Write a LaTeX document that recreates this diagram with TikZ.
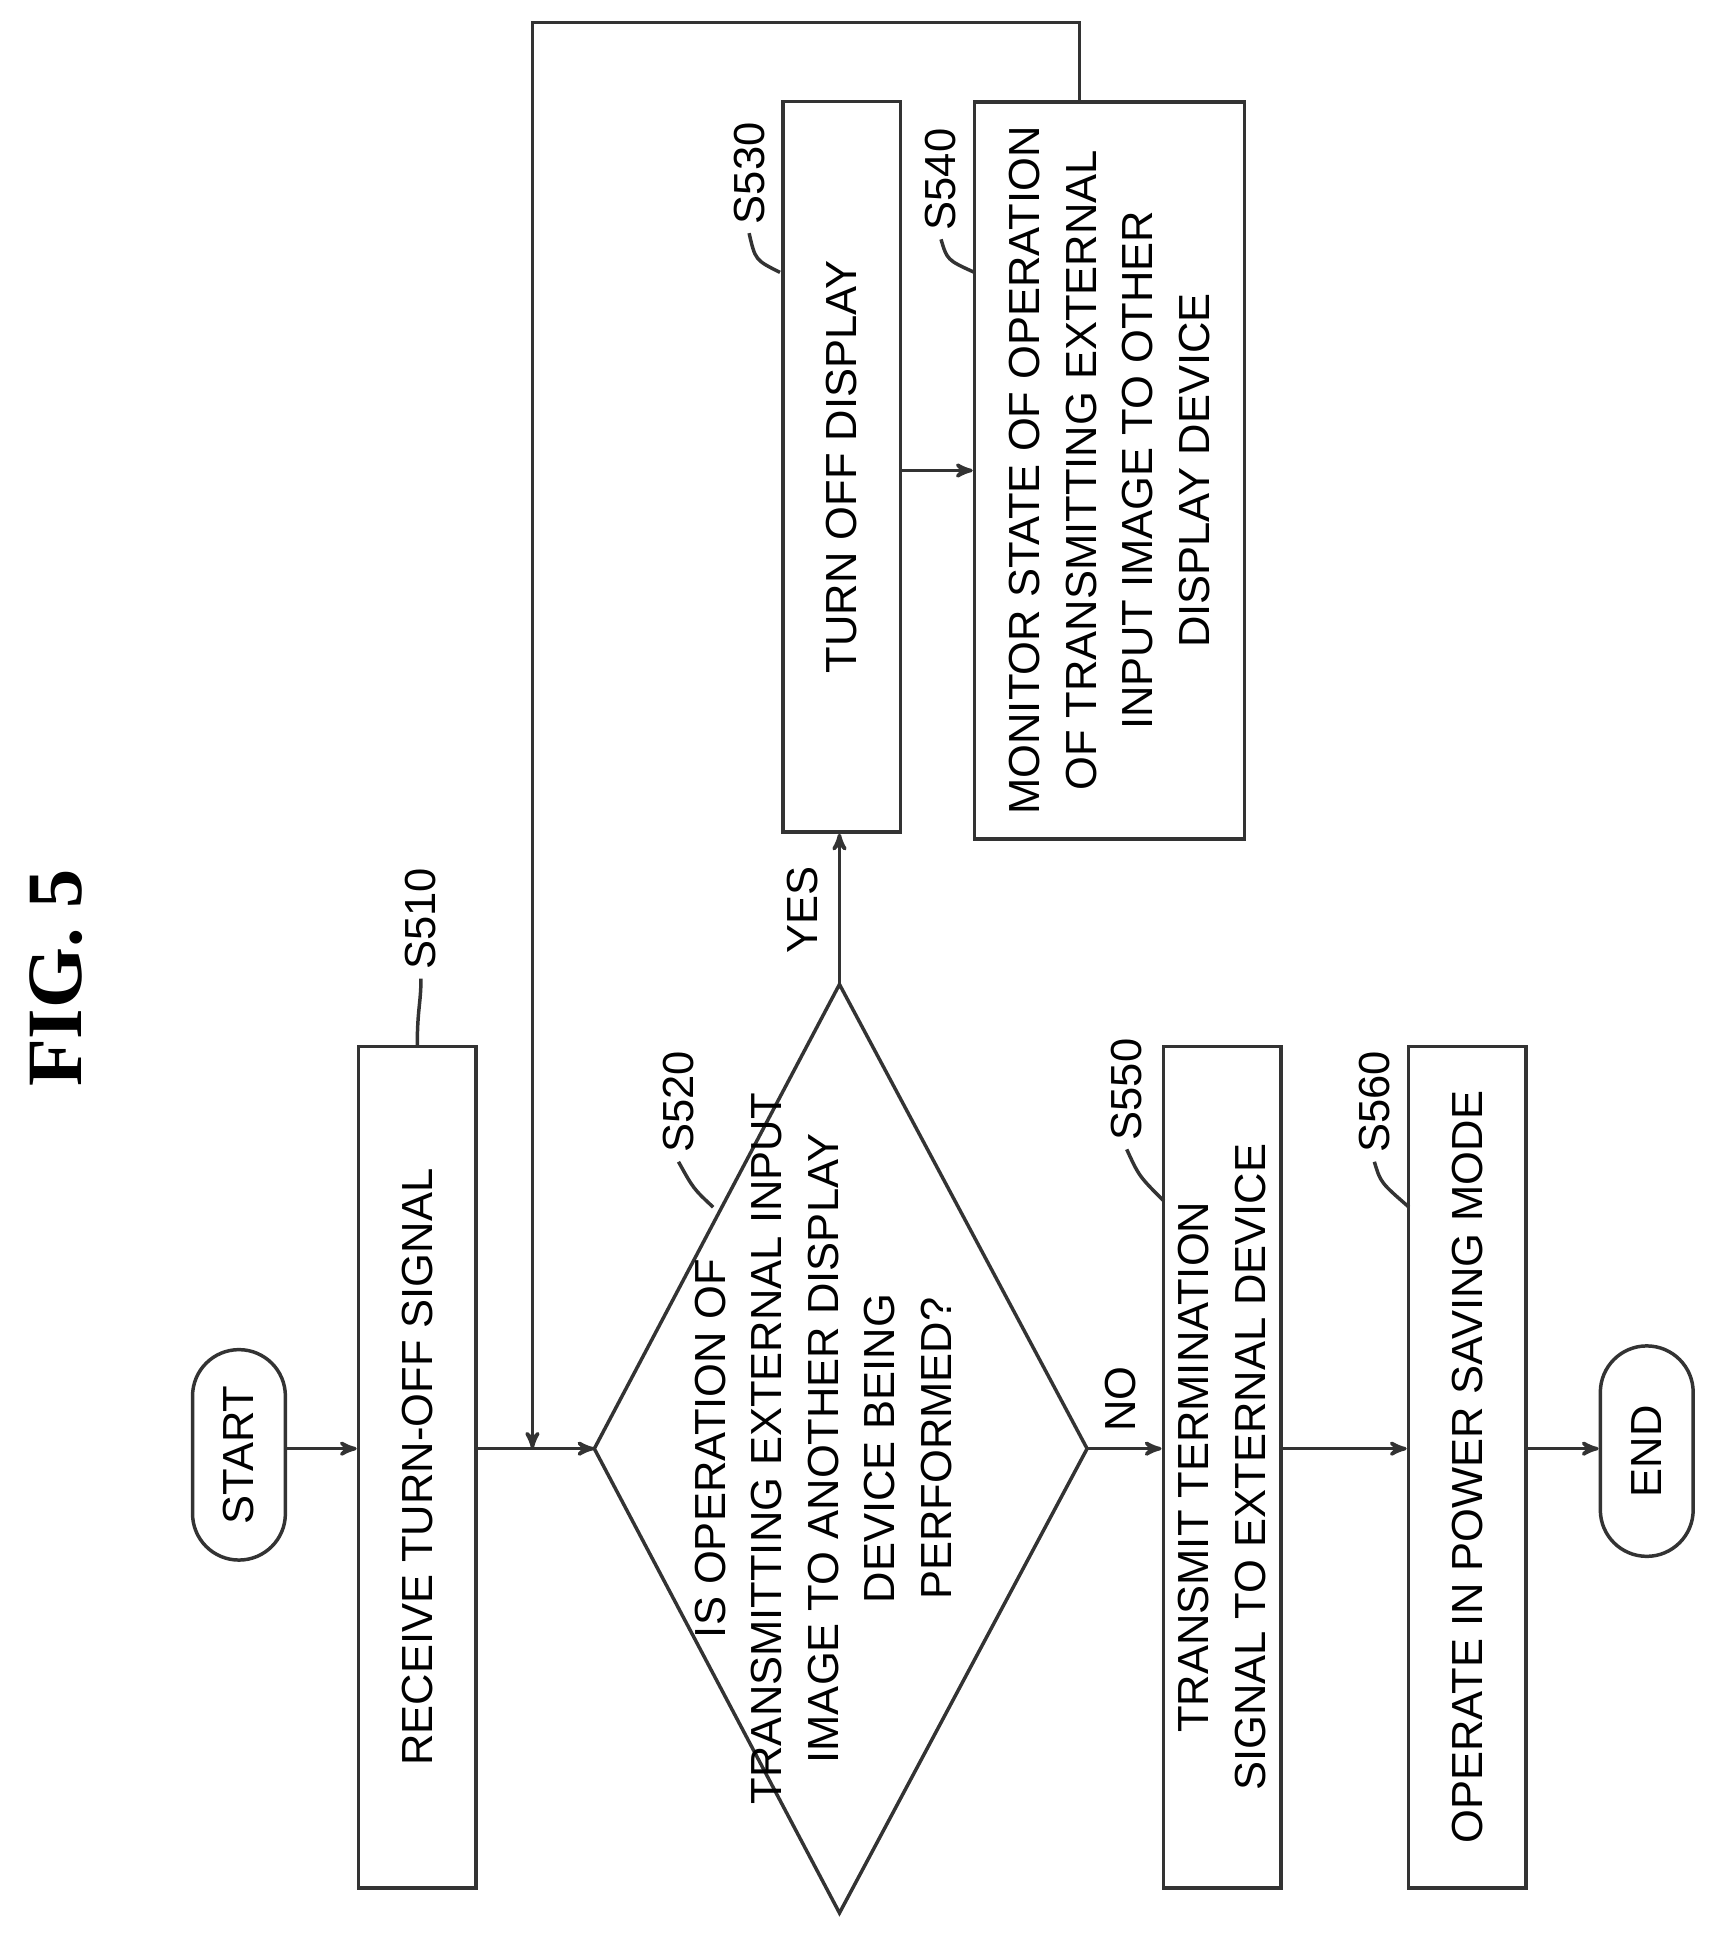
\documentclass[tikz,border=0pt]{standalone}
\usepackage{fontspec}
\setmainfont{Liberation Sans}
\newfontfamily\figfont{Liberation Serif}
\usetikzlibrary{shapes.geometric, arrows}

\begin{document}
\begin{tikzpicture}[x=0.02cm, y=-0.02cm, >=stealth', line width=1.6pt, draw=black!80,
  every node/.style={font=\fontsize{20}{26}\selectfont, rotate=90, align=center},
  box/.style={draw, rectangle, inner sep=4pt},
  term/.style={draw, rounded corners=0.75cm, minimum height=1.5cm, minimum width=3.4cm},
  tag/.style={font=\fontsize{20}{24}\selectfont}]

\useasboundingbox (0,0) rectangle (1380,1562);

\node (title) at (45,790) {\fontsize{36}{40}\selectfont\bfseries\figfont FIG. 5};

\node[term] (start) at (193,1175) {START};
\node[box, minimum width=13.6cm, minimum height=1.9cm] (s510) at (337,1185) {RECEIVE TURN-OFF SIGNAL};

% decision
\coordinate (dl) at (480,1170);
\coordinate (dr) at (878,1170);
\coordinate (dt) at (678,795);
\coordinate (db) at (678,1545);
\draw (dl) -- (dt) -- (dr) -- (db) -- cycle;
\node (s520) at (665,1170)
  {IS OPERATION OF\\TRANSMITTING EXTERNAL INPUT\\IMAGE TO ANOTHER DISPLAY\\DEVICE BEING\\PERFORMED?};

\node[box, minimum width=11.8cm, minimum height=1.9cm] (s530) at (680,377) {TURN OFF DISPLAY};
\node[box, minimum width=11.9cm, minimum height=4.36cm] (s540) at (896,380)
  {MONITOR STATE OF OPERATION\\OF TRANSMITTING EXTERNAL\\INPUT IMAGE TO OTHER\\DISPLAY DEVICE};
\node[box, minimum width=13.6cm, minimum height=1.9cm] (s550) at (987,1185)
  {TRANSMIT TERMINATION\\SIGNAL TO EXTERNAL DEVICE};
\node[box, minimum width=13.6cm, minimum height=1.9cm] (s560) at (1185,1185) {OPERATE IN POWER SAVING MODE};
\node[term] (end) at (1330,1172) {END};

% step labels
\node[tag] (l510) at (340,742) {S510};
\node[tag] (l520) at (548,890) {S520};
\node[tag] (l530) at (605,140) {S530};
\node[tag] (l540) at (760,145) {S540};
\node[tag] (l550) at (910,880) {S550};
\node[tag] (l560) at (1110,890) {S560};

\draw (337,845) .. controls (337,815) and (340,810) .. (l510.west);
\draw (576,975) .. controls (560,960) .. (l520.west);
\draw (630,220) .. controls (610,210) .. (l530.west);
\draw (787,220) .. controls (765,210) .. (l540.west);
\draw (940,970) .. controls (920,950) .. (l550.west);
\draw (1138,975) .. controls (1115,955) .. (l560.west);

% flow
\coordinate (join) at (430,1170);
\node (yes) at (648,735) {YES};
\node (no) at (905,1130) {NO};
\draw[->] (start.south |- 0,1170) -- (s510.north |- 0,1170);
\draw[->] (s510.south |- 0,1170) -- (dl);
\draw[->] (s540.east -| 872,0) -- (872,18) -- (430,18) -- (join);
\draw[->] (dt) -- (dt |- s530.west);
\draw[->] (s530.south |- 0,380) -- (s540.north |- 0,380);
\draw[->] (dr) -- (s550.north |- 0,1170);
\draw[->] (s550.south |- 0,1170) -- (s560.north |- 0,1170);
\draw[->] (s560.south |- 0,1170) -- (end.north |- 0,1170);
\end{tikzpicture}
\end{document}
